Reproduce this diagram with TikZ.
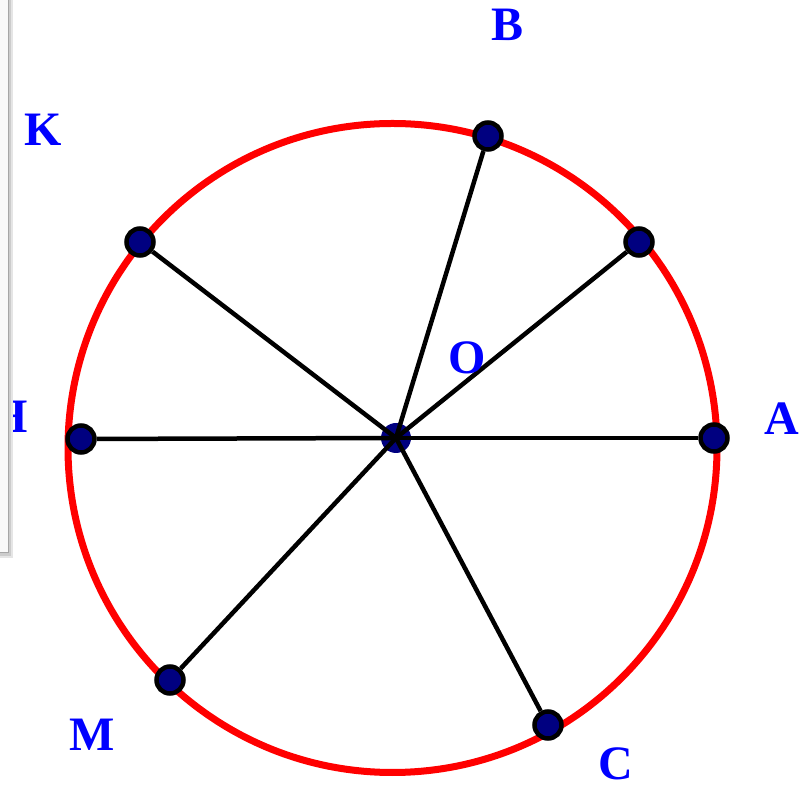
\documentclass[tikz,border=0pt]{standalone}
\usepackage{fontspec}
\setmainfont{Liberation Serif}
\definecolor{dotnavy}{RGB}{0,0,128}
\definecolor{labelblue}{RGB}{0,0,255}
\definecolor{rimred}{RGB}{255,0,0}
\tikzset{pointdot/.style={circle,draw=black,fill=dotnavy,line width=4.5pt,minimum size=27pt,inner sep=0pt},
  ptlabel/.style={text=labelblue,font=\bfseries\fontsize{48}{48}\selectfont,inner sep=0pt},
  spoke/.style={line width=4.5pt}}

\begin{document}
\begin{tikzpicture}[x=1pt,y=1pt]
  \path[use as bounding box] (0,0) rectangle (805,789);
  \draw[rimred,line width=7pt] (392.5,341) circle (324.5);
  \node[circle,fill=dotnavy,minimum size=30pt,inner sep=0pt] (O) at (396,351) {};
  \node[pointdot] (A) at (714,351) {};
  \node[pointdot] (B) at (488,653) {};
  \node[pointdot] (P) at (639,547) {};
  \node[pointdot] (K) at (140,547) {};
  \node[pointdot] (H) at (81,350) {};
  \node[pointdot] (M) at (170,109) {};
  \node[pointdot] (C) at (548,64) {};
  \foreach \p in {A,B,P,K,H,M,C}
    \draw[spoke] (O.center) -- (\p);
  \node[ptlabel] (lB) at (508,764) {B};
  \node[ptlabel] (lK) at (43,659) {K};
  \node[ptlabel] (lO) at (467,431) {O};
  \node[ptlabel] (lA) at (782,370) {A};
  \node[ptlabel] (lC) at (616,25) {C};
  \node[ptlabel] (lM) at (92,54) {M};
  \node[ptlabel] (lH) at (9,372) {H};
  % side panel
  \fill[gray!20] (0,231) rectangle (13,789);
  \fill[gray!40] (0,233) rectangle (10.5,789);
  \fill[white!95!gray] (0,236) rectangle (8,789);
  \draw[gray!70,line width=1pt] (8,789) -- (8,236) -- (0,236);
\end{tikzpicture}
\end{document}
